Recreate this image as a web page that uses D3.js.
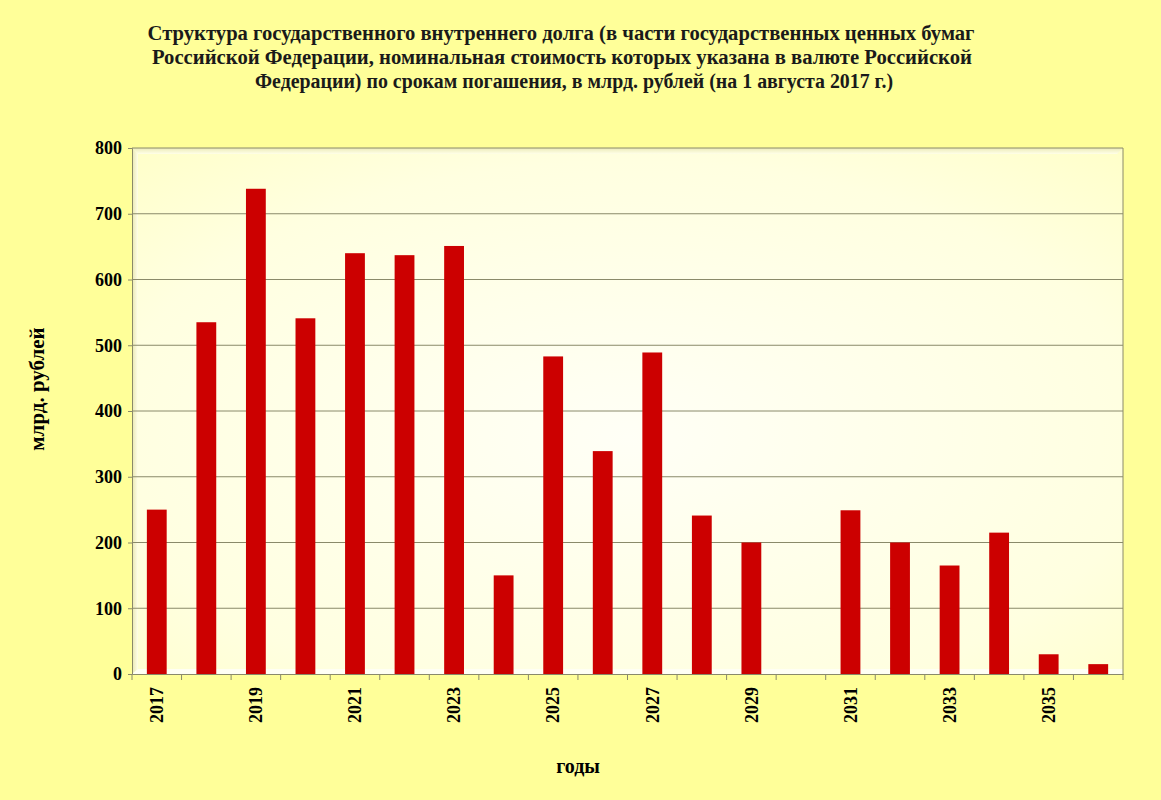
<!DOCTYPE html>
<html><head><meta charset="utf-8">
<script src="https://cdn.jsdelivr.net/npm/d3@7"></script>
<style>body{margin:0;background:#FFFF99;}svg{display:block;}</style>
</head><body>
<svg id="c" width="1161" height="800"></svg>
<script>
const years = ["2017","2018","2019","2020","2021","2022","2023","2024","2025","2026","2027","2028","2029","2030","2031","2032","2033","2034","2035","2036"];
const values = [250,535,738,541,640,637,651,150,483,339,489,241,200,0,249,200,165,215,30,15];
const yTicks = [0,100,200,300,400,500,600,700,800];
const xLabels = ["2017","2019","2021","2023","2025","2027","2029","2031","2033","2035"];
const titleLines = [
  "Структура  государственного внутреннего долга (в части государственных ценных бумаг",
  "Российской Федерации, номинальная стоимость которых указана в валюте Российской",
  "Федерации) по срокам погашения, в млрд. рублей (на 1 августа 2017 г.)"
];

(function(){
const svg = d3.select("#c");
const W = 1161, H = 800;
const pL = 132, pR = 1123, pT = 148, pB = 674;
const font = "'Liberation Serif','Times New Roman',serif";

svg.append("rect").attr("width", W).attr("height", H).attr("fill", "#FFFF99");

const defs = svg.append("defs");
const rg = defs.append("radialGradient").attr("id","pg").attr("cx","50%").attr("cy","55%").attr("r","75%");
rg.append("stop").attr("offset","0%").attr("stop-color","#FFFFF6");
rg.append("stop").attr("offset","70%").attr("stop-color","#FFFFE0");
rg.append("stop").attr("offset","100%").attr("stop-color","#FFFFC8");
const lg = defs.append("linearGradient").attr("id","wall").attr("x1","0").attr("x2","1");
lg.append("stop").attr("offset","0%").attr("stop-color","#E8E6B0");
lg.append("stop").attr("offset","100%").attr("stop-color","#FFFFE8");
const fg = defs.append("linearGradient").attr("id","topw").attr("x1","0").attr("x2","0").attr("y1","0").attr("y2","1");
fg.append("stop").attr("offset","0%").attr("stop-color","#ECEBB8");
fg.append("stop").attr("offset","100%").attr("stop-color","#FFFFE8");

const x = d3.scaleBand().domain(years).range([pL, pR]).paddingInner(0.6).paddingOuter(0.3);
const xb = d3.scaleBand().domain(years).range([pL, pR]);
const y = d3.scaleLinear().domain([0, 800]).range([pB, pT]);

svg.append("rect").attr("x", pL).attr("y", pT).attr("width", pR-pL).attr("height", pB-pT).attr("fill", "url(#pg)");
svg.append("path").attr("d", `M${pL},${pT} L${pL+6},${pT+6} L${pL+6},${pB-5} L${pL},${pB} Z`).attr("fill","url(#wall)");
svg.append("path").attr("d", `M${pL},${pT} L${pR},${pT} L${pR-6},${pT+6} L${pL+6},${pT+6} Z`).attr("fill","url(#topw)");
svg.append("path").attr("d", `M${pL},${pB} L${pL+6},${pB-5} L${pR},${pB-5} L${pR},${pB} Z`).attr("fill","#FFFFF4");

svg.append("g").selectAll("line").data(yTicks.filter(d => d > 0)).join("line")
  .attr("x1", pL).attr("x2", pR).attr("y1", d => y(d)).attr("y2", d => y(d))
  .attr("stroke", "#8A8A6A").attr("stroke-width", 1);

svg.append("g").selectAll("rect").data(years.map((k,i)=>({k, v: values[i]}))).join("rect")
  .attr("x", d => x(d.k)).attr("width", x.bandwidth())
  .attr("y", d => y(d.v)).attr("height", d => pB - y(d.v))
  .attr("fill", "#CC0000");

svg.append("line").attr("x1", pR).attr("x2", pR).attr("y1", pT).attr("y2", pB).attr("stroke","#8A8A6A");

const ya = svg.append("g").attr("transform", `translate(${pL},0)`)
  .call(d3.axisLeft(y).tickValues(yTicks).tickSize(4).tickPadding(6));
ya.select(".domain").attr("stroke", "#8A8A6A");
ya.selectAll(".tick line").attr("stroke", "#8A8A6A");
ya.selectAll("text").attr("font-family", font).attr("font-weight","bold").attr("font-size", 18).attr("fill","#000");

const xa = svg.append("g").attr("transform", `translate(0,${pB})`)
  .call(d3.axisBottom(xb).tickSize(0).tickFormat(d => xLabels.includes(d) ? d : ""));
xa.select(".domain").attr("stroke", "#8A8A6A");
xa.selectAll(".tick text")
  .attr("font-family", font).attr("font-weight","bold").attr("font-size", 18).attr("fill","#000")
  .attr("transform", "rotate(-90)").attr("text-anchor","end").attr("x", -13).attr("y", 0).attr("dy", "0.35em");
svg.append("g").selectAll("line").data(years.concat(["end"])).join("line")
  .attr("x1", (d,i) => pL + i*xb.step()).attr("x2", (d,i) => pL + i*xb.step())
  .attr("y1", pB).attr("y2", pB + 6).attr("stroke", "#8A8A6A");

svg.append("text").attr("transform", "translate(44,389) rotate(-90)")
  .attr("text-anchor","middle").attr("font-family", font).attr("font-weight","bold").attr("font-size", 21)
  .text("млрд. рублей");
svg.append("text").attr("x", 578).attr("y", 773).attr("text-anchor","middle")
  .attr("font-family", font).attr("font-weight","bold").attr("font-size", 20).text("годы");

const tl = [[561, 40, 827], [562, 64, 820], [574, 88, 638]];
svg.append("g").selectAll("text").data(titleLines).join("text")
  .attr("x", (d,i) => tl[i][0]).attr("y", (d,i) => tl[i][1])
  .attr("text-anchor","middle").attr("font-family", font).attr("font-weight","bold").attr("font-size", 20)
  .attr("textLength", (d,i) => tl[i][2]).attr("lengthAdjust","spacingAndGlyphs")
  .attr("fill","#1a1a1a")
  .text(d => d);
})();
</script>
</body></html>
